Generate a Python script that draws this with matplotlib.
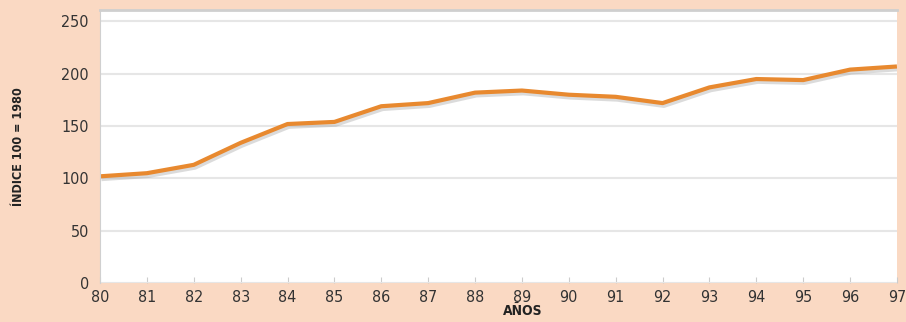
import matplotlib
matplotlib.use("Agg")
import matplotlib.pyplot as plt
import matplotlib.patheffects as pe

# index values, base 1980 = 100
years = [80, 81, 82, 83, 84, 85, 86, 87, 88, 89, 90, 91, 92, 93, 94, 95, 96, 97]
index = [102, 105, 113, 134, 152, 154, 169, 172, 182, 184, 180, 178, 172, 187, 195, 194, 204, 207]
yticks = [0, 50, 100, 150, 200, 250]

bg = "#fad9c3"
font = ["DejaVu Sans"]

fig = plt.figure(figsize=(9.06, 3.22), dpi=100, facecolor=bg)
ax = fig.add_axes([0.1104, 0.121, 0.8796, 0.848])
ax.set_facecolor("white")

ax.plot(years, index, color="#e8892f", lw=3, solid_capstyle="butt",
        path_effects=[pe.SimpleLineShadow(offset=(1, -2), shadow_color="#9a9a9a", alpha=0.35),
                      pe.Normal()])

ax.set_xlim(80, 97)
ax.set_ylim(0, 261)
ax.set_xticks(years)
ax.set_xticklabels([str(y) for y in years])
ax.set_yticks(yticks)
ax.yaxis.grid(True, color="#e6e6e6", lw=1.5)
ax.set_axisbelow(True)

for s in ["right", "bottom"]:
    ax.spines[s].set_visible(False)
ax.spines["left"].set_color("#d0d0d0")
ax.spines["top"].set_color("#cfcfcf")
ax.spines["top"].set_linewidth(2)

ax.tick_params(axis="x", direction="in", length=4, color="#cccccc", pad=5,
               labelsize=11.5, labelcolor="#333333")
ax.tick_params(axis="y", length=0, pad=8, labelsize=11.5, labelcolor="#333333")
for lab in ax.get_xticklabels() + ax.get_yticklabels():
    lab.set_family(font)
    lab.set_stretch("condensed")

ax.set_xlabel("AÑOS", family=font, fontweight="bold", fontsize=10, color="#222222",
              fontstretch="condensed")
ax.xaxis.set_label_coords(0.53, -0.075)
ax.set_ylabel("ÍNDICE 100 = 1980", family=font, fontweight="bold", fontsize=9,
              color="#222222", fontstretch="condensed")
ax.yaxis.set_label_coords(-0.094, 0.5)

fig.savefig("out.png", dpi=100, facecolor=bg)
